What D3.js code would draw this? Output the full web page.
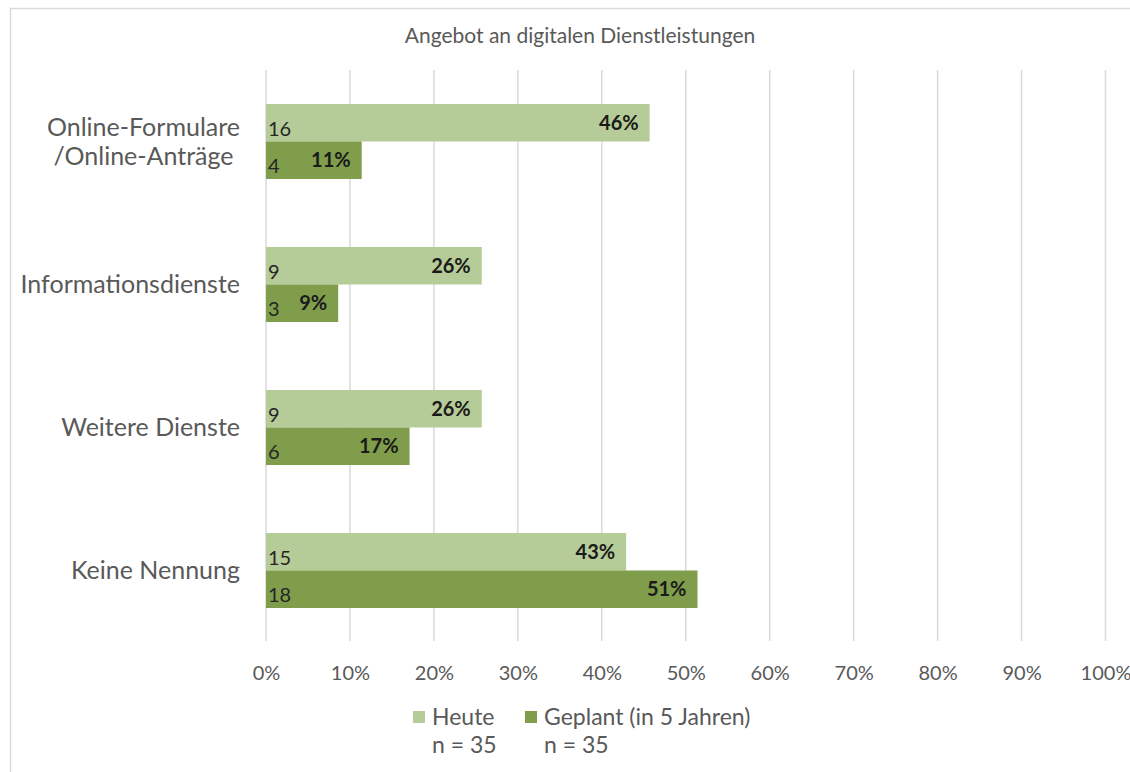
<!DOCTYPE html>
<html>
<head>
<meta charset="utf-8">
<script src="https://cdn.jsdelivr.net/npm/d3@7"></script>
<style>
  html, body { margin: 0; padding: 0; background: #fff; }
  svg { display: block; }
</style>
</head>
<body>
<svg id="chart" width="1130" height="772"></svg>
<script>
// ---- data ----
const title = "Angebot an digitalen Dienstleistungen";
const categories = [["Online-Formulare", "/Online-Anträge"], ["Informationsdienste"], ["Weitere Dienste"], ["Keine Nennung"]];
const seriesNames = ["Heute", "Geplant (in 5 Jahren)"];
const seriesN = ["n = 35", "n = 35"];
const heuteCounts = [16, 9, 9, 15];
const geplantCounts = [4, 3, 6, 18];
const heutePct = [0.457, 0.257, 0.257, 0.429];
const geplantPct = [0.114, 0.086, 0.171, 0.514];
const tickValues = [0, 0.1, 0.2, 0.3, 0.4, 0.5, 0.6, 0.7, 0.8, 0.9, 1.0];
const colors = ["#b6cc98", "#7f9d4b"];

const font = "Lato, 'Open Sans', sans-serif";
const svg = d3.select("#chart");

// border
svg.append("rect").attr("x", 10.5).attr("y", 8.5).attr("width", 1130).attr("height", 800)
  .attr("fill", "#fff").attr("stroke", "#d9d9d9").attr("stroke-width", 1.5);

const x = d3.scaleLinear().domain([0, 1]).range([266, 1105.5]);
const catKeys = categories.map((c, i) => i);
const y = d3.scaleBand().domain(catKeys).range([70, 642]).padding(0);
const barH = 37.5;
const inner = d3.scaleBand().domain([0, 1])
  .range([(y.bandwidth() - 2 * barH) / 2, (y.bandwidth() + 2 * barH) / 2]).padding(0);

// title
svg.append("text").attr("x", 580).attr("y", 43).attr("text-anchor", "middle")
  .attr("font-family", font).attr("font-size", 21).attr("fill", "#595959").text(title);

// gridlines
svg.append("g").selectAll("line").data(tickValues).join("line")
  .attr("x1", d => x(d)).attr("x2", d => x(d))
  .attr("y1", 70).attr("y2", 641)
  .attr("stroke", "#d9d9d9").attr("stroke-width", 1.5);

// x axis labels
const xAxis = d3.axisBottom(x).tickValues(tickValues).tickFormat(d3.format(".0%")).tickSize(0).tickPadding(0);
const gx = svg.append("g").attr("transform", "translate(0,667)").call(xAxis);
gx.select(".domain").remove();
gx.selectAll("text").attr("font-family", font).attr("font-size", 20).attr("fill", "#595959").attr("dy", "0.35em").attr("y", 6);

// bars
const rows = catKeys.map(i => [
  { cat: i, s: 0, pct: heutePct[i], count: heuteCounts[i] },
  { cat: i, s: 1, pct: geplantPct[i], count: geplantCounts[i] }
]).flat();

const g = svg.append("g");
g.selectAll("rect.bar").data(rows).join("rect").attr("class", "bar")
  .attr("x", x(0)).attr("y", d => y(d.cat) + inner(d.s))
  .attr("width", d => x(d.pct) - x(0)).attr("height", inner.bandwidth())
  .attr("fill", d => colors[d.s]);

// count labels
g.selectAll("text.count").data(rows).join("text").attr("class", "count")
  .attr("x", x(0) + 2).attr("y", d => y(d.cat) + inner(d.s) + inner.bandwidth() - 6)
  .attr("font-family", font).attr("font-size", 20).attr("fill", "#262626")
  .text(d => d.count);

// percent labels
g.selectAll("text.pct").data(rows).join("text").attr("class", "pct")
  .attr("x", d => x(d.pct) - 11).attr("y", d => y(d.cat) + inner(d.s) + inner.bandwidth() / 2 + 7)
  .attr("text-anchor", "end")
  .attr("font-family", font).attr("font-size", 20).attr("font-weight", "bold").attr("fill", "#1a1a1a")
  .text(d => d3.format(".0%")(d.pct));

// category labels (block right-aligned at 240, lines centered within block)
const labelRight = 240;
const cl = svg.append("g").selectAll("text").data(catKeys).join("text")
  .attr("text-anchor", "middle").attr("font-family", font).attr("font-size", 25).attr("fill", "#595959")
  .attr("y", d => y(d) + y.bandwidth() / 2);
cl.each(function(d) {
  const lines = categories[d];
  const t = d3.select(this);
  const spans = lines.map((ln, k) => t.append("tspan")
      .attr("dy", k === 0 ? ((-(lines.length - 1) / 2) * 1.16 + 0.35) + "em" : "1.16em")
      .text(ln));
  const w = d3.max(spans, s => s.node().getComputedTextLength());
  spans.forEach(s => s.attr("x", labelRight - w / 2));
});

// legend
const legendX = [413, 525];
const lg = svg.append("g").selectAll("g").data(seriesNames).join("g")
  .attr("transform", (d, i) => `translate(${legendX[i]},0)`);
lg.append("rect").attr("x", 0).attr("y", 711).attr("width", 12).attr("height", 12).attr("fill", (d, i) => colors[i]);
lg.append("text").attr("x", 19).attr("y", 725).attr("font-family", font).attr("font-size", 23).attr("fill", "#595959").text(d => d);
lg.append("text").attr("x", 19).attr("y", 753).attr("font-family", font).attr("font-size", 23).attr("fill", "#595959").text((d, i) => seriesN[i]);
</script>
</body>
</html>
